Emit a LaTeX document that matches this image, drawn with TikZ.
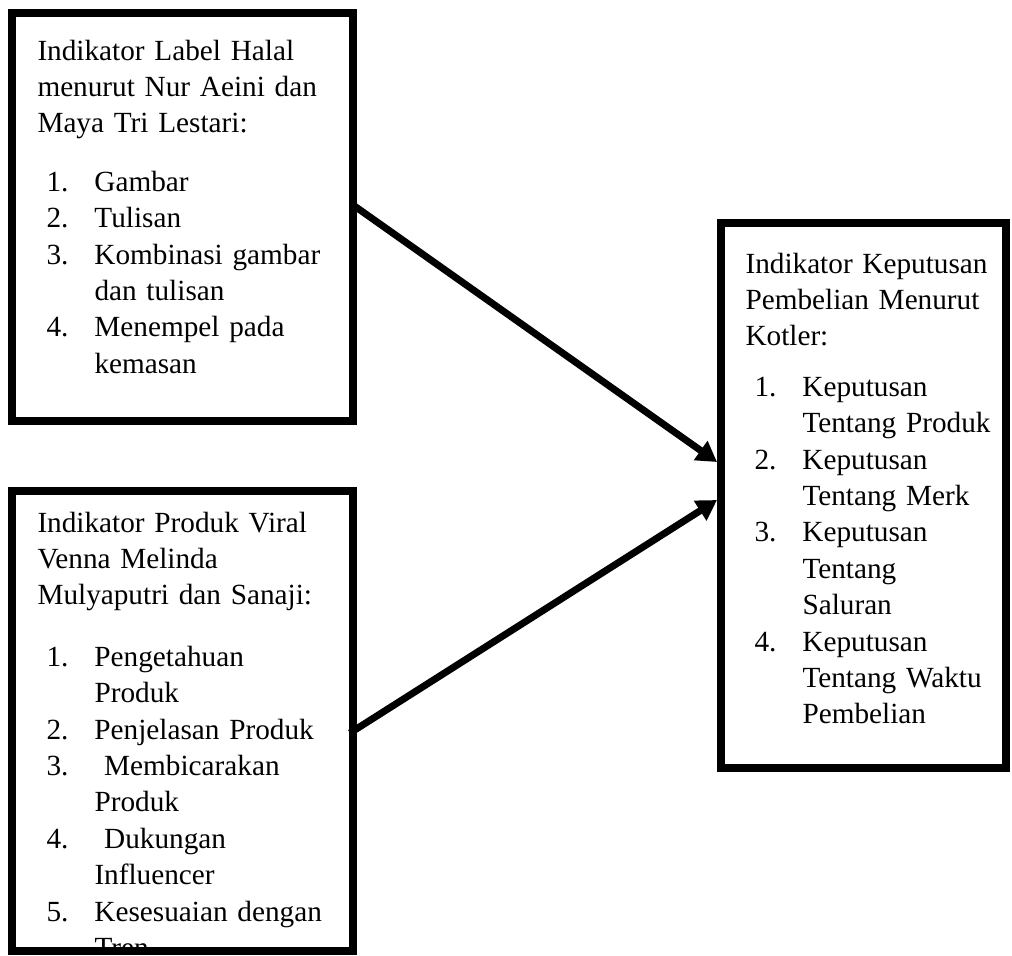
\documentclass[tikz,border=0pt]{standalone}
\usepackage{fontspec}
\setmainfont{Liberation Serif}
\usetikzlibrary{arrows.meta}

\newcommand{\butir}[2]{\hspace*{3.6pt}\makebox[19.2pt][l]{#1.}#2}
\newcommand{\lanjut}[1]{\hspace*{22.8pt}#1}

\begin{document}
\begin{tikzpicture}[x=0.4pt, y=-0.4pt,
    kotak/.style={draw, line width=3.2pt, inner sep=0pt, outer sep=0pt},
    isi/.style={anchor=base west, inner sep=0pt, text width=#1, align=left,
      font=\fontsize{11.7}{14.56}\selectfont},
    panah/.style={line width=2.8pt, -{Triangle[length=8pt, width=9pt]}}]
        \useasboundingbox (0,0) rectangle (1012,955);

        % kotak-kotak
        \node[kotak, minimum width=136.4pt, minimum height=163.2pt] (halal)     at (182.5,217)   {};
        \node[kotak, minimum width=136.4pt, minimum height=184pt]   (viral)     at (182.5,721)   {};
        \node[kotak, minimum width=114pt,   minimum height=218pt]   (keputusan) at (863.5,495.5) {};

        % isi kotak
        \node[isi=130pt] (halalteks) at (37,60) {Indikator Label Halal\\
            menurut Nur Aeini dan\\
            Maya Tri Lestari:\\[8.8pt]
            \butir{1}{Gambar}\\
            \butir{2}{Tulisan}\\
            \butir{3}{Kombinasi gambar}\\
            \lanjut{dan tulisan}\\
            \butir{4}{Menempel pada}\\
            \lanjut{kemasan}};
        \begin{scope}
            \clip (16,495) rectangle (349,947);
            \node[isi=130pt] (viralteks) at (37,532) {Indikator Produk Viral\\
                Venna Melinda\\
                Mulyaputri dan Sanaji:\\[10pt]
                \butir{1}{Pengetahuan}\\
                \lanjut{Produk}\\
                \butir{2}{Penjelasan Produk}\\
                \butir{3}{\ Membicarakan}\\
                \lanjut{Produk}\\
                \butir{4}{\ Dukungan}\\
                \lanjut{Influencer}\\
                \butir{5}{Kesesuaian dengan}\\
                \lanjut{Tren}};
        \end{scope}
        \node[isi=110pt] (keputusanteks) at (745,273) {Indikator Keputusan\\
            Pembelian Menurut\\
            Kotler:\\[5.6pt]
            \butir{1}{Keputusan}\\
            \lanjut{Tentang Produk}\\
            \butir{2}{Keputusan}\\
            \lanjut{Tentang Merk}\\
            \butir{3}{Keputusan}\\
            \lanjut{Tentang}\\
            \lanjut{Saluran}\\
            \butir{4}{Keputusan}\\
            \lanjut{Tentang Waktu}\\
            \lanjut{Pembelian}};

        % panah
        \draw[panah] ([yshift=4.8pt]halal.east) -- ([xshift=-1.6pt, yshift=13.4pt]keputusan.west);
        \draw[panah] ([xshift=-1.2pt, yshift=-4.8pt]viral.east) -- ([xshift=-1.6pt, yshift=-1.8pt]keputusan.west);
\end{tikzpicture}
\end{document}
